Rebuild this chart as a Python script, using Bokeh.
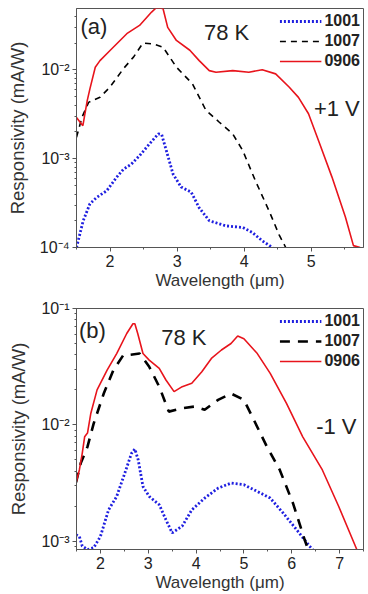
from bokeh.plotting import figure
from bokeh.layouts import column
from bokeh.models import (Range1d, Legend, LegendItem, Label, CustomJSTickFormatter,
                          SingleIntervalTicker)
from bokeh.embed import file_html
from bokeh.resources import INLINE

# ---------------- data: panel (a), +1 V bias ----------------
wl_a_0906 = [1.50, 1.595, 1.66, 1.70, 1.78, 1.85, 2.00, 2.25, 2.44, 2.62, 2.69, 2.79, 2.86,
             2.99, 3.19, 3.33, 3.48, 3.58, 3.83, 4.07, 4.27, 4.47, 4.67, 4.81, 4.96, 5.11,
             5.31, 5.51, 5.63, 5.73]
r_a_0906 = [2.9e-3, 2.35e-3, 4.5e-3, 6.1e-3, 1.07e-2, 1.27e-2, 1.65e-2, 2.55e-2, 3.16e-2,
            4.47e-2, 5.0e-2, 4.9e-2, 3.0e-2, 2.14e-2, 1.66e-2, 1.27e-2, 9.8e-3, 9.4e-3,
            9.8e-3, 9.4e-3, 1.0e-2, 9.0e-3, 6.4e-3, 4.9e-3, 3.2e-3, 1.59e-3, 6.2e-4, 2.2e-4,
            1.05e-4, 1.0e-4]

wl_a_1007 = [1.50, 1.58, 1.68, 1.85, 2.00, 2.20, 2.35, 2.49, 2.64, 2.79, 2.99, 3.23, 3.43,
             3.63, 3.83, 3.98, 4.17, 4.37, 4.52, 4.62, 4.67]
r_a_1007 = [1.74e-3, 2.9e-3, 4.3e-3, 4.9e-3, 6.4e-3, 1.03e-2, 1.39e-2, 2.0e-2, 1.96e-2,
            1.8e-2, 1.07e-2, 6.95e-3, 3.5e-3, 2.57e-3, 1.9e-3, 1.23e-3, 5.6e-4, 2.6e-4,
            1.4e-4, 1.0e-4, 7.1e-5]

wl_a_1001 = [1.50, 1.60, 1.70, 1.80, 1.95, 2.10, 2.20, 2.32, 2.44, 2.59, 2.72, 2.77, 2.84,
             2.94, 3.06, 3.21, 3.33, 3.48, 3.73, 3.98, 4.12, 4.27, 4.42, 4.52]
r_a_1001 = [1.0e-4, 2.0e-4, 3.1e-4, 3.66e-4, 4.35e-4, 6.2e-4, 7.6e-4, 8.7e-4, 1.08e-3,
            1.47e-3, 1.9e-3, 1.87e-3, 1.23e-3, 6.7e-4, 4.8e-4, 4.2e-4, 2.8e-4, 2.0e-4,
            1.75e-4, 1.68e-4, 1.48e-4, 1.19e-4, 1.0e-4, 8.5e-5]

# ---------------- data: panel (b), -1 V bias ----------------
wl_b_0906 = [1.49, 1.56, 1.62, 1.67, 1.73, 1.80, 1.93, 2.14, 2.34, 2.55, 2.68, 2.72, 2.78,
             2.89, 3.02, 3.23, 3.37, 3.54, 3.71, 3.91, 4.12, 4.32, 4.53, 4.73, 4.87, 5.00,
             5.28, 5.55, 5.89, 6.23, 6.64, 6.98, 7.36]
r_b_0906 = [3.16e-3, 4.1e-3, 5.7e-3, 7.9e-3, 8.5e-3, 1.26e-2, 2.0e-2, 2.95e-2, 4.1e-2,
            6.1e-2, 7.4e-2, 7.4e-2, 6.1e-2, 4.1e-2, 3.6e-2, 3.06e-2, 2.43e-2, 1.93e-2,
            2.13e-2, 2.28e-2, 2.86e-2, 3.72e-2, 4.4e-2, 5.0e-2, 5.8e-2, 5.5e-2, 4.1e-2,
            2.77e-2, 1.53e-2, 7.9e-3, 4.1e-3, 2.0e-3, 8.5e-4]

wl_b_1007 = [1.49, 1.59, 1.73, 1.86, 2.07, 2.27, 2.48, 2.61, 2.82, 3.02, 3.23, 3.43, 3.71,
             3.98, 4.18, 4.46, 4.73, 5.00, 5.21, 5.48, 5.75, 6.03, 6.27, 6.37]
r_b_1007 = [3.2e-3, 4.7e-3, 6.5e-3, 1.03e-2, 1.86e-2, 2.95e-2, 3.98e-2, 4.0e-2, 4.1e-2,
            3.16e-2, 2.13e-2, 1.3e-2, 1.39e-2, 1.44e-2, 1.35e-2, 1.64e-2, 1.86e-2, 1.64e-2,
            1.1e-2, 6.5e-3, 4.1e-3, 2.1e-3, 1.03e-3, 7.9e-4]

wl_b_1001 = [1.49, 1.56, 1.62, 1.73, 1.86, 2.00, 2.17, 2.34, 2.51, 2.65, 2.72, 2.79, 2.89,
             3.02, 3.23, 3.37, 3.50, 3.71, 3.91, 4.18, 4.46, 4.73, 5.00, 5.28, 5.55, 5.82,
             6.10, 6.37, 6.47]
r_b_1001 = [1.14e-3, 1.1e-3, 9.1e-4, 8.5e-4, 8.8e-4, 1.1e-3, 1.86e-3, 2.43e-3, 3.85e-3,
            5.7e-3, 6.2e-3, 5.0e-3, 2.95e-3, 2.43e-3, 2.06e-3, 1.53e-3, 1.18e-3, 1.35e-3,
            1.86e-3, 2.35e-3, 2.86e-3, 3.16e-3, 3.06e-3, 2.68e-3, 2.35e-3, 1.75e-3,
            1.26e-3, 9.1e-4, 8.2e-4]

series_names = ["1001", "1007", "0906"]

FONT = "Liberation Sans"
BLUE = "#1f1fe0"
RED = "#e8141c"

sup_fmt = CustomJSTickFormatter(code="""
const e = Math.round(Math.log10(tick));
const m = {'-':'\\u207b','0':'\\u2070','1':'\\u00b9','2':'\\u00b2','3':'\\u00b3','4':'\\u2074'};
return '10' + String(e).split('').map(c => m[c]).join('');
""")


def style(p):
    p.outline_line_color = "#555555"
    p.outline_line_width = 1
    p.xgrid.visible = False
    p.ygrid.visible = False
    p.background_fill_color = "white"
    p.border_fill_color = "white"
    for ax in (p.xaxis[0], p.yaxis[0]):
        ax.axis_line_color = "#555555"
        ax.major_tick_line_color = "#555555"
        ax.minor_tick_line_color = "#555555"
        ax.major_tick_in = 0
        ax.major_tick_out = 4
        ax.minor_tick_in = 0
        ax.minor_tick_out = 2
        ax.major_label_text_font = FONT
        ax.major_label_text_font_size = "16px"
        ax.major_label_text_color = "#222222"
        ax.axis_label_text_font = FONT
        ax.axis_label_text_font_style = "normal"
        ax.axis_label_text_color = "#333333"
    p.xaxis[0].axis_label_text_font_size = "17px"
    p.yaxis[0].axis_label_text_font_size = "18.5px"
    p.xaxis[0].ticker = SingleIntervalTicker(interval=1, num_minor_ticks=2)
    p.xaxis[0].major_label_standoff = 3
    p.xaxis[0].axis_label_standoff = 1
    p.yaxis[0].formatter = sup_fmt
    p.yaxis[0].major_label_standoff = 3
    p.yaxis[0].axis_label_standoff = 9
    p.xaxis.axis_label = "Wavelength (\u03bcm)"
    p.yaxis.axis_label = "Responsivity (mA/W)"


def add_curves(p, data, dash_black, w_black):
    (x1, y1), (x2, y2), (x3, y3) = data
    r1 = p.line(x1, y1, line_color=BLUE, line_width=2.8, line_dash="2 2")
    r2 = p.line(x2, y2, line_color="black", line_width=w_black, line_dash=dash_black)
    r3 = p.line(x3, y3, line_color=RED, line_width=1.6)
    leg = Legend(items=[LegendItem(label=series_names[0], renderers=[r1]),
                        LegendItem(label=series_names[1], renderers=[r2]),
                        LegendItem(label=series_names[2], renderers=[r3])],
                 location="top_right", margin=3, padding=0, spacing=0,
                 glyph_width=42, glyph_height=20, label_height=20, label_standoff=3,
                 label_text_font=FONT, label_text_font_size="16px",
                 label_text_font_style="bold", label_text_color="#222222",
                 background_fill_alpha=0, border_line_alpha=0)
    p.add_layout(leg)


def add_label(p, x, y, txt, size):
    p.add_layout(Label(x=x, y=y, text=txt, text_font=FONT, text_font_size=size,
                       text_color="#222222", text_baseline="middle", text_align="left"))


# ---------------- panel (a) ----------------
pa = figure(width=368, height=296, y_axis_type="log", output_backend="svg",
            toolbar_location=None, x_range=Range1d(1.5, 5.78), y_range=Range1d(1e-4, 4.9e-2),
            min_border_left=76, min_border_right=3, min_border_top=8, min_border_bottom=49)
style(pa)
add_curves(pa, [(wl_a_1001, r_a_1001), (wl_a_1007, r_a_1007), (wl_a_0906, r_a_0906)],
           "6 5", 1.6)
add_label(pa, 1.56, 0.031, "(a)", "22px")
add_label(pa, 3.40, 0.026, "78 K", "22px")
add_label(pa, 5.04, 0.00365, "+1 V", "22px")

# ---------------- panel (b) ----------------
pb = figure(width=368, height=298, y_axis_type="log", output_backend="svg",
            toolbar_location=None, x_range=Range1d(1.5, 7.5), y_range=Range1d(8.5e-4, 1e-1),
            min_border_left=67, min_border_right=5, min_border_top=12, min_border_bottom=44)
style(pb)
add_curves(pb, [(wl_b_1001, r_b_1001), (wl_b_1007, r_b_1007), (wl_b_0906, r_b_0906)],
           "10 8", 2.6)
add_label(pb, 1.55, 0.0649, "(b)", "22px")
add_label(pb, 3.27, 0.0565, "78 K", "22px")
add_label(pb, 6.51, 0.0096, "-1 V", "22px")

layout = column(pa, pb, spacing=0)
open("out.html", "w").write(file_html(layout, INLINE))
